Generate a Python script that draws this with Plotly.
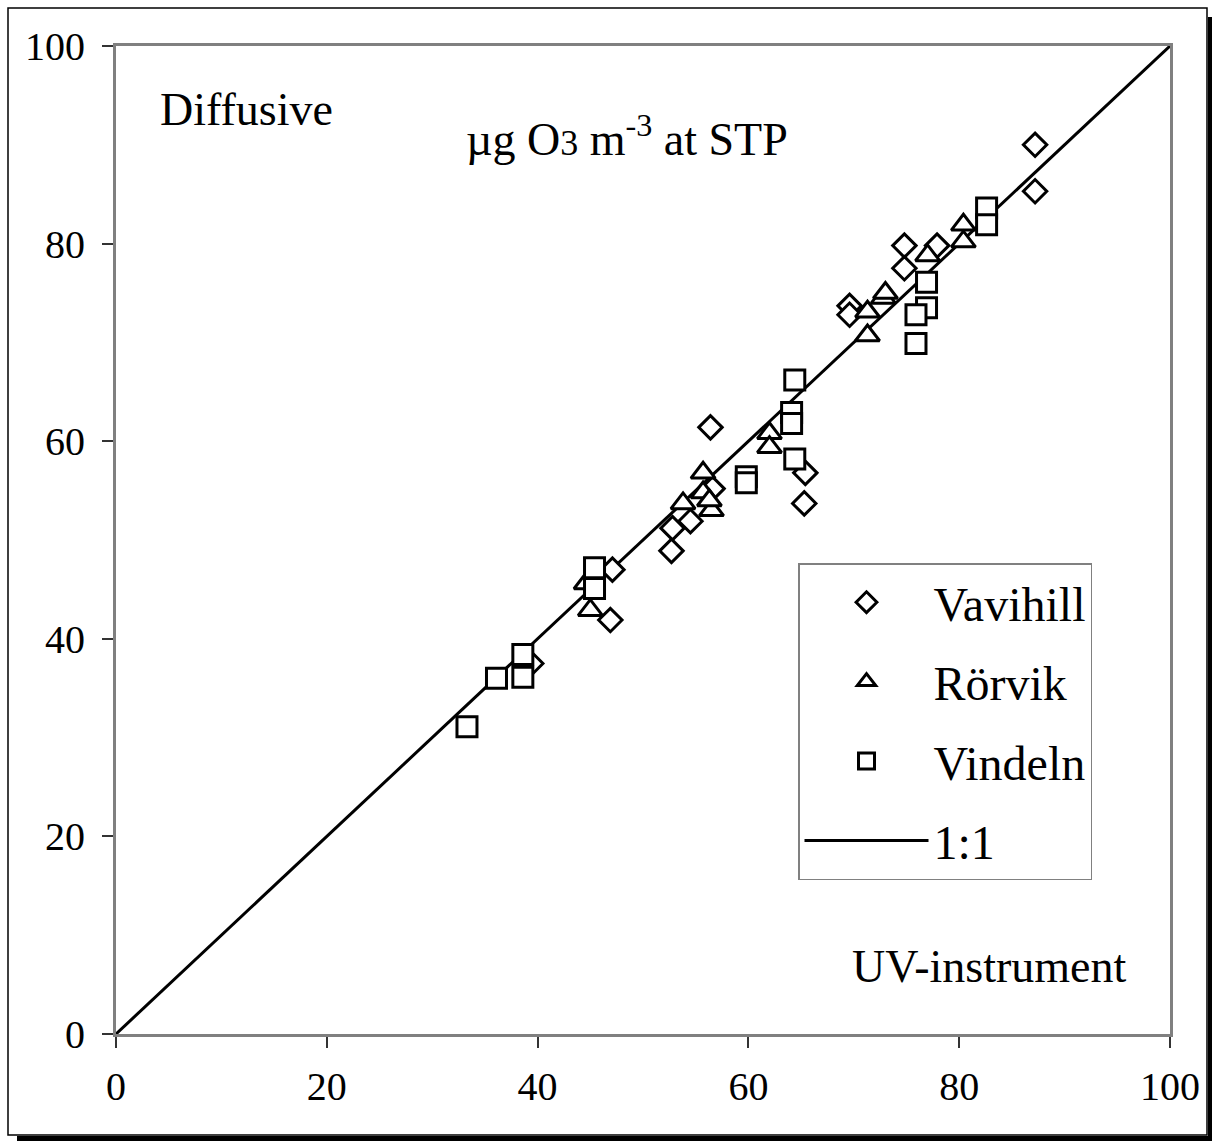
import plotly.graph_objects as go

# ---- data (UV-instrument vs Diffusive, µg O3 m-3 at STP) ----
vav_x = [87.2, 87.2, 74.8, 74.8, 77.9, 69.6, 69.6, 56.4, 65.4, 65.3, 56.6, 52.8, 52.7, 54.5, 47.1, 46.9, 39.4]
vav_y = [90.0, 85.3, 79.8, 77.5, 79.8, 73.7, 72.8, 61.4, 56.8, 53.7, 55.2, 51.2, 48.9, 51.9, 47.0, 41.9, 37.5]

ror_x = [80.4, 80.4, 77.0, 72.8, 73.0, 71.3, 71.3, 62.0, 62.0, 55.7, 55.7, 53.8, 56.5, 56.3, 45.0, 44.6]
ror_y = [81.9, 80.2, 78.8, 74.5, 75.0, 73.1, 70.7, 60.8, 59.4, 56.8, 54.8, 53.7, 53.0, 54.0, 42.9, 45.6]

vin_x = [82.6, 82.6, 76.9, 76.9, 75.9, 75.9, 64.4, 64.1, 64.1, 64.4, 59.8, 59.8, 45.4, 45.4, 38.6, 38.6, 36.1, 33.3]
vin_y = [83.6, 81.9, 76.1, 73.5, 72.8, 69.9, 66.2, 62.9, 61.8, 58.2, 56.4, 55.8, 47.2, 45.1, 38.4, 36.1, 36.0, 31.1]

one_x = [0, 100]
one_y = [0, 100]

tick_vals = [0, 20, 40, 60, 80, 100]
tick_text = ["0", "20", "40", "60", "80", "100"]

FONT = "Liberation Serif, Times New Roman, serif"

fig = go.Figure()

# 1:1 line drawn first (below markers), listed last in legend
fig.add_trace(go.Scatter(x=one_x, y=one_y, mode="lines", name="1:1",
                         line=dict(color="black", width=3),
                         legendrank=4, legendgroup="d"))

fig.add_trace(go.Scatter(x=vav_x, y=vav_y, mode="markers", name="Vavihill",
                         marker=dict(symbol="diamond", size=18, color="white",
                                     line=dict(color="black", width=3)),
                         legendrank=1, legendgroup="a"))
fig.add_trace(go.Scatter(x=ror_x, y=ror_y, mode="markers", name="Rörvik",
                         marker=dict(symbol="triangle-up", size=21, color="white",
                                     line=dict(color="black", width=3)),
                         legendrank=2, legendgroup="b"))
fig.add_trace(go.Scatter(x=vin_x, y=vin_y, mode="markers", name="Vindeln",
                         marker=dict(symbol="square", size=20, color="white",
                                     line=dict(color="black", width=3)),
                         legendrank=3, legendgroup="c"))

axis_common = dict(
    range=[0, 100], tickvals=tick_vals, ticktext=tick_text,
    showgrid=False, zeroline=False,
    showline=True, linecolor="#808080", linewidth=3, mirror=True,
    ticks="outside", ticklen=11, tickwidth=1.5, tickcolor="#333333",
    tickfont=dict(family=FONT, size=40, color="black"),
    fixedrange=True,
)

fig.update_xaxes(**axis_common, ticklabelstandoff=4)
fig.update_yaxes(**axis_common, ticklabelstandoff=9)

# outer frame with drop shadow (paper coordinates)
W, H = 1212, 1141
L, R, T, B = 116, 42, 46, 107
pw, ph = W - L - R, H - T - B

def px(x):
    return (x - L) / pw

def py(y):
    return (H - B - y) / ph

shapes = [
    dict(type="rect", xref="paper", yref="paper", x0=px(17), x1=px(1213), y0=py(1136), y1=py(1142),
         fillcolor="black", line=dict(width=0), layer="below"),
    dict(type="rect", xref="paper", yref="paper", x0=px(1208), x1=px(1213), y0=py(17), y1=py(1142),
         fillcolor="black", line=dict(width=0), layer="below"),
    dict(type="rect", xref="paper", yref="paper", x0=px(8), x1=px(1207), y0=py(8), y1=py(1135),
         fillcolor="rgba(0,0,0,0)", line=dict(color="black", width=1.5), layer="below"),
]

annotations = [
    dict(text="Diffusive", xref="paper", yref="paper", x=px(158), y=py(110),
         xanchor="left", yanchor="middle", showarrow=False,
         font=dict(family=FONT, size=46, color="black")),
    dict(text="µg O<span style=\"font-size:36px\">3</span> m<sup>-3</sup> at STP",
         xref="paper", yref="paper", x=px(627), y=py(136),
         xanchor="center", yanchor="middle", showarrow=False,
         font=dict(family=FONT, size=46, color="black")),
    dict(text="UV-instrument", xref="paper", yref="paper", x=px(1129), y=py(966),
         xanchor="right", yanchor="middle", showarrow=False,
         font=dict(family=FONT, size=46, color="black")),
]

fig.update_layout(
    width=W, height=H,
    margin=dict(l=L, r=R, t=T, b=B, pad=0),
    paper_bgcolor="white", plot_bgcolor="white",
    showlegend=True,
    legend=dict(x=px(798), y=py(563), xanchor="left", yanchor="top",
                bgcolor="white", bordercolor="#808080", borderwidth=1.5,
                font=dict(family=FONT, size=48, color="black"),
                traceorder="grouped", tracegroupgap=14, itemwidth=124),
    shapes=shapes,
    annotations=annotations,
)

fig.write_html("out.html")
